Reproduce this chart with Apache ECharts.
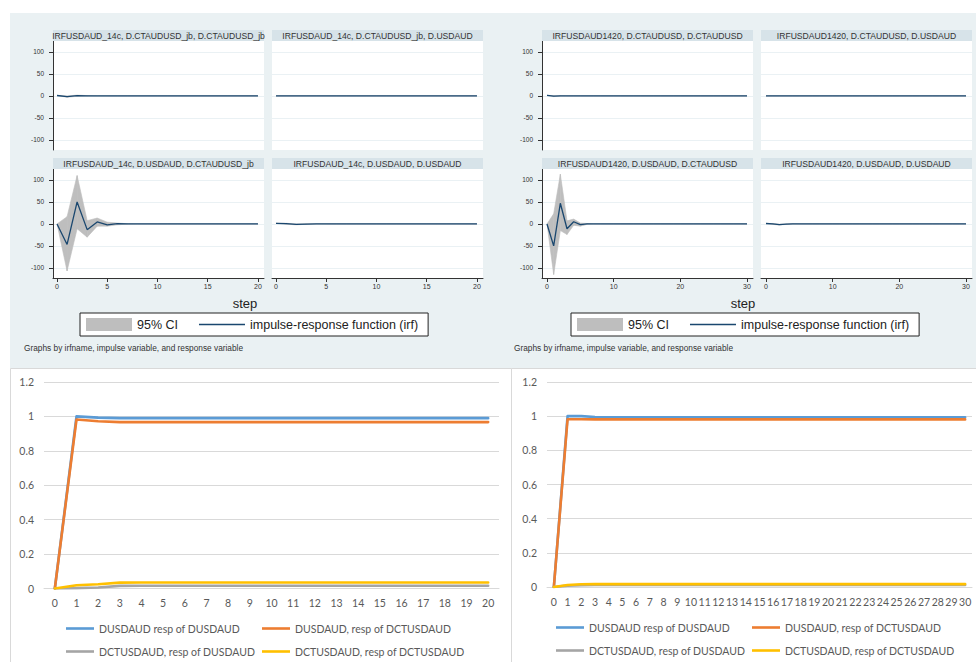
<!DOCTYPE html>
<html>
<head>
<meta charset="utf-8">
<title>IRF USDAUD</title>
<script src="https://cdn.jsdelivr.net/npm/echarts@6/dist/echarts.min.js"></script>
<style>
  html, body { margin: 0; padding: 0; background: #fff; }
  #chart { width: 976px; height: 662px; }
</style>
</head>
<body>
<div id="chart"></div>
<script>
// steps
const steps20 = [0, 1, 2, 3, 4, 5, 6, 7, 8, 9, 10, 11, 12, 13, 14, 15, 16, 17, 18, 19, 20];
const steps30 = [0, 1, 2, 3, 4, 5, 6, 7, 8, 9, 10, 11, 12, 13, 14, 15, 16, 17, 18, 19, 20,
  21, 22, 23, 24, 25, 26, 27, 28, 29, 30];

// stata block 1: IRFUSDAUD_14c (impulse, response)
const irfA_cc = [1, -1.5, 0.5, 0.2, 0, 0, 0, 0, 0, 0, 0, 0, 0, 0, 0, 0, 0, 0, 0, 0, 0];
const loA_cc = [1, -3, -0.8, -0.4, -0.1, 0, 0, 0, 0, 0, 0, 0, 0, 0, 0, 0, 0, 0, 0, 0, 0];
const hiA_cc = [1, 0, 1.8, 0.8, 0.1, 0, 0, 0, 0, 0, 0, 0, 0, 0, 0, 0, 0, 0, 0, 0, 0];
const irfA_cu = [0, 0, 0, 0, 0, 0, 0, 0, 0, 0, 0, 0, 0, 0, 0, 0, 0, 0, 0, 0, 0];
const loA_cu = [0, 0, 0, 0, 0, 0, 0, 0, 0, 0, 0, 0, 0, 0, 0, 0, 0, 0, 0, 0, 0];
const hiA_cu = [0, 0, 0, 0, 0, 0, 0, 0, 0, 0, 0, 0, 0, 0, 0, 0, 0, 0, 0, 0, 0];
const irfA_uc = [0, -46.6, 50, -13, 4.5, -2, 0.5, 0, 0, 0, 0, 0, 0, 0, 0, 0, 0, 0, 0, 0, 0];
const loA_uc = [0, -107, -11, -30, -5, -5, -2, -0.5, 0, 0, 0, 0, 0, 0, 0, 0, 0, 0, 0, 0, 0];
const hiA_uc = [0, 16.5, 110, 7.5, 13.5, 4, 2, 0.5, 0, 0, 0, 0, 0, 0, 0, 0, 0, 0, 0, 0, 0];
const irfA_uu = [1.5, 0.5, -1, -0.3, 0, 0, 0, 0, 0, 0, 0, 0, 0, 0, 0, 0, 0, 0, 0, 0, 0];
const loA_uu = [1.5, -0.5, -2, -0.8, -0.1, 0, 0, 0, 0, 0, 0, 0, 0, 0, 0, 0, 0, 0, 0, 0, 0];
const hiA_uu = [1.5, 1.5, 0, 0.2, 0.1, 0, 0, 0, 0, 0, 0, 0, 0, 0, 0, 0, 0, 0, 0, 0, 0];

// stata block 2: IRFUSDAUD1420
const irfB_cc = [1.5, -0.5, 0, 0, 0, 0, 0, 0, 0, 0, 0, 0, 0, 0, 0, 0, 0, 0, 0, 0, 0, 0, 0, 0, 0, 0, 0, 0, 0, 0, 0];
const loB_cc = [1.5, -1.5, -0.3, 0, 0, 0, 0, 0, 0, 0, 0, 0, 0, 0, 0, 0, 0, 0, 0, 0, 0, 0, 0, 0, 0, 0, 0, 0, 0, 0, 0];
const hiB_cc = [1.5, 0.5, 0.3, 0, 0, 0, 0, 0, 0, 0, 0, 0, 0, 0, 0, 0, 0, 0, 0, 0, 0, 0, 0, 0, 0, 0, 0, 0, 0, 0, 0];
const irfB_cu = [0, 0, 0, 0, 0, 0, 0, 0, 0, 0, 0, 0, 0, 0, 0, 0, 0, 0, 0, 0, 0, 0, 0, 0, 0, 0, 0, 0, 0, 0, 0];
const loB_cu = [0, 0, 0, 0, 0, 0, 0, 0, 0, 0, 0, 0, 0, 0, 0, 0, 0, 0, 0, 0, 0, 0, 0, 0, 0, 0, 0, 0, 0, 0, 0];
const hiB_cu = [0, 0, 0, 0, 0, 0, 0, 0, 0, 0, 0, 0, 0, 0, 0, 0, 0, 0, 0, 0, 0, 0, 0, 0, 0, 0, 0, 0, 0, 0, 0];
const irfB_uc = [0, -50, 47, -11, 5, -1.5, 0, 0, 0, 0, 0, 0, 0, 0, 0, 0, 0, 0, 0, 0, 0, 0, 0, 0, 0, 0, 0, 0, 0, 0, 0];
const loB_uc = [0, -115, -15, -24, -3, -5, -1, 0, 0, 0, 0, 0, 0, 0, 0, 0, 0, 0, 0, 0, 0, 0, 0, 0, 0, 0, 0, 0, 0, 0, 0];
const hiB_uc = [0, 23, 113, 7, 11, 2, 1, 0, 0, 0, 0, 0, 0, 0, 0, 0, 0, 0, 0, 0, 0, 0, 0, 0, 0, 0, 0, 0, 0, 0, 0];
const irfB_uu = [1, 0, -1.5, -0.5, 0, 0, 0, 0, 0, 0, 0, 0, 0, 0, 0, 0, 0, 0, 0, 0, 0, 0, 0, 0, 0, 0, 0, 0, 0, 0, 0];
const loB_uu = [1, -1, -2.5, -1, -0.2, 0, 0, 0, 0, 0, 0, 0, 0, 0, 0, 0, 0, 0, 0, 0, 0, 0, 0, 0, 0, 0, 0, 0, 0, 0, 0];
const hiB_uu = [1, 1, -0.5, 0, 0.2, 0, 0, 0, 0, 0, 0, 0, 0, 0, 0, 0, 0, 0, 0, 0, 0, 0, 0, 0, 0, 0, 0, 0, 0, 0, 0];

const stataYTicks = [-100, -50, 0, 50, 100];
const xTicks20 = [0, 5, 10, 15, 20];
const xTicks30 = [0, 10, 20, 30];

// excel charts
const catsA = ['0', '1', '2', '3', '4', '5', '6', '7', '8', '9', '10', '11', '12', '13', '14', '15', '16', '17', '18', '19', '20'];
const catsB = ['0', '1', '2', '3', '4', '5', '6', '7', '8', '9', '10', '11', '12', '13', '14', '15', '16', '17', '18', '19', '20',
  '21', '22', '23', '24', '25', '26', '27', '28', '29', '30'];
const blueA = [0, 1.0, 0.993, 0.99, 0.99, 0.99, 0.99, 0.99, 0.99, 0.99, 0.99, 0.99, 0.99, 0.99, 0.99, 0.99, 0.99, 0.99, 0.99, 0.99, 0.99];
const orangeA = [0, 0.982, 0.972, 0.967, 0.967, 0.967, 0.967, 0.967, 0.967, 0.967, 0.967, 0.967, 0.967, 0.967, 0.967, 0.967, 0.967, 0.967, 0.967, 0.967, 0.967];
const grayA = [0, 0.002, 0.006, 0.015, 0.016, 0.016, 0.016, 0.016, 0.016, 0.016, 0.016, 0.016, 0.016, 0.016, 0.016, 0.016, 0.016, 0.016, 0.016, 0.016, 0.016];
const yellowA = [0, 0.019, 0.025, 0.034, 0.035, 0.035, 0.035, 0.035, 0.035, 0.035, 0.035, 0.035, 0.035, 0.035, 0.035, 0.035, 0.035, 0.035, 0.035, 0.035, 0.035];
const blueB = [0, 1.0, 1.0, 0.995, 0.994, 0.994, 0.994, 0.994, 0.994, 0.994, 0.994, 0.994, 0.994, 0.994, 0.994, 0.994, 0.994, 0.994, 0.994, 0.994, 0.994,
  0.994, 0.994, 0.994, 0.994, 0.994, 0.994, 0.994, 0.994, 0.994, 0.994];
const orangeB = [0, 0.982, 0.982, 0.981, 0.981, 0.981, 0.981, 0.981, 0.981, 0.981, 0.981, 0.981, 0.981, 0.981, 0.981, 0.981, 0.981, 0.981, 0.981, 0.981, 0.981,
  0.981, 0.981, 0.981, 0.981, 0.981, 0.981, 0.981, 0.981, 0.981, 0.981];
const grayB = [0, 0.008, 0.011, 0.012, 0.012, 0.012, 0.012, 0.012, 0.012, 0.012, 0.012, 0.012, 0.012, 0.012, 0.012, 0.012, 0.012, 0.012, 0.012, 0.012, 0.012,
  0.012, 0.012, 0.012, 0.012, 0.012, 0.012, 0.012, 0.012, 0.012, 0.012];
const yellowB = [0, 0.012, 0.016, 0.017, 0.017, 0.017, 0.017, 0.017, 0.017, 0.017, 0.017, 0.017, 0.017, 0.017, 0.017, 0.017, 0.017, 0.017, 0.017, 0.017, 0.017,
  0.017, 0.017, 0.017, 0.017, 0.017, 0.017, 0.017, 0.017, 0.017, 0.017];
const excelNames = ['DUSDAUD resp of DUSDAUD', 'DUSDAUD, resp of DCTUSDAUD', 'DCTUSDAUD, resp of DUSDAUD', 'DCTUSDAUD, resp of DCTUSDAUD'];
const excelColors = ['#5b9bd5', '#ed7d31', '#a5a5a5', '#ffc000'];

const CI_NAME = '95% CI';
const IRF_NAME = 'impulse-response function (irf)';
const stataFont = 'Liberation Sans';
const excelFont = 'Lato';
const ciColor = '#bebebe';
const irfColor = '#1a476f';

const grids = [], xAxes = [], yAxes = [], series = [], legends = [], graphics = [];

function pairs(xs, ys) {
  return xs.map((x, i) => [x, ys[i]]);
}

function stataPanel(p) {
  const gi = grids.length;
  grids.push({ left: p.left, top: p.top, width: p.width, height: 109, show: true,
    backgroundColor: '#fff', borderWidth: 0 });
  xAxes.push({
    gridIndex: gi, type: 'value', min: p.xMin, max: p.xMax,
    axisLine: { show: p.bottom, onZero: false, lineStyle: { color: '#333', width: 1 } },
    axisTick: { show: p.bottom, length: 4, customValues: p.xTicks, lineStyle: { color: '#333' } },
    axisLabel: { show: p.bottom, customValues: p.xTicks, fontSize: 7, color: '#333', margin: 5, fontFamily: stataFont },
    splitLine: { show: false }
  });
  yAxes.push({
    gridIndex: gi, type: 'value', min: -123, max: 125,
    axisLine: { show: p.leftAxis, onZero: false, lineStyle: { color: '#333', width: 1 } },
    axisTick: { show: p.leftAxis, length: 4, customValues: stataYTicks, lineStyle: { color: '#333' } },
    axisLabel: { show: p.leftAxis, customValues: stataYTicks, fontSize: 6.5, color: '#333', margin: 9, fontFamily: stataFont },
    splitLine: { show: true, lineStyle: { color: '#eaf1f4', width: 1 } }
  });
  // confidence band: one quad between each pair of steps
  const steps = p.steps, lo = p.lo, hi = p.hi;
  series.push({
    name: CI_NAME, type: 'custom', xAxisIndex: gi, yAxisIndex: gi, silent: true,
    data: steps.map((s, i) => [s, lo[i], hi[i]]),
    encode: { x: 0, y: [1, 2] },
    itemStyle: { color: ciColor },
    renderItem: function (params, api) {
      const i = params.dataIndex;
      if (i >= steps.length - 1) return null;
      const pts = [
        api.coord([steps[i], lo[i]]), api.coord([steps[i + 1], lo[i + 1]]),
        api.coord([steps[i + 1], hi[i + 1]]), api.coord([steps[i], hi[i]])
      ];
      return { type: 'polygon', shape: { points: pts },
        style: { fill: ciColor, stroke: ciColor, lineWidth: 0.6 } };
    }
  });
  series.push({
    name: IRF_NAME, type: 'line', xAxisIndex: gi, yAxisIndex: gi,
    data: pairs(steps, p.irf), symbol: 'none', itemStyle: { color: irfColor },
    lineStyle: { color: irfColor, width: 1.3 }, silent: true
  });
  // by-title bar
  graphics.push({ type: 'rect', shape: { x: p.left, y: p.top - 11, width: p.width, height: 11 },
    style: { fill: '#d7e3e9' }, z: 1 });
  graphics.push({ type: 'text', x: p.left + p.width / 2, y: p.top - 5, z: 2,
    style: { text: p.title, fill: '#333', font: '8.6px "Liberation Sans"', align: 'center', verticalAlign: 'middle' } });
}

function stataBlock(b) {
  const colL = b.x0, colR = b.x1;
  const rows = [41, 169];
  const cfgs = [
    { title: b.titles[0], irf: b.irf[0], lo: b.lo[0], hi: b.hi[0], left: colL, top: rows[0], bottom: false, leftAxis: true },
    { title: b.titles[1], irf: b.irf[1], lo: b.lo[1], hi: b.hi[1], left: colR, top: rows[0], bottom: false, leftAxis: false },
    { title: b.titles[2], irf: b.irf[2], lo: b.lo[2], hi: b.hi[2], left: colL, top: rows[1], bottom: true, leftAxis: true },
    { title: b.titles[3], irf: b.irf[3], lo: b.lo[3], hi: b.hi[3], left: colR, top: rows[1], bottom: true, leftAxis: false }
  ];
  cfgs.forEach(c => {
    stataPanel(Object.assign(c, { width: 211, steps: b.steps, xMin: b.xMin, xMax: b.xMax, xTicks: b.xTicks }));
  });
  graphics.push({ type: 'text', x: b.stepX, y: 303, z: 2,
    style: { text: 'step', fill: '#222', font: '13px "Liberation Sans"', align: 'center', verticalAlign: 'middle' } });
  graphics.push({ type: 'text', x: b.noteX, y: 348, z: 2,
    style: { text: 'Graphs by irfname, impulse variable, and response variable', fill: '#333',
      font: '8.3px "Liberation Sans"', align: 'left', verticalAlign: 'middle' } });
  legends.push({
    left: b.legendX, top: 313, orient: 'horizontal', selectedMode: false,
    padding: [5, 10, 5, 6], itemGap: 21, itemWidth: 46, itemHeight: 13,
    backgroundColor: '#fff', borderColor: '#222', borderWidth: 1, borderRadius: 0,
    textStyle: { fontSize: 12.5, color: '#222', fontFamily: stataFont },
    data: [
      { name: CI_NAME, icon: 'rect', itemStyle: { color: ciColor, borderWidth: 0 } },
      { name: IRF_NAME, icon: 'path://M0,0h46v1.3h-46z', itemStyle: { color: irfColor, borderWidth: 0 } }
    ]
  });
}

function excelChart(e) {
  const gi = grids.length;
  grids.push({ left: e.left, top: 382, width: e.width, height: e.height, show: false });
  xAxes.push({
    gridIndex: gi, type: 'category', data: e.cats, boundaryGap: true,
    axisLine: { lineStyle: { color: '#d9d9d9', width: 1 } },
    axisTick: { show: false },
    axisLabel: { interval: 0, color: '#595959', fontSize: 10.5, margin: 9, fontFamily: excelFont },
    splitLine: { show: false }
  });
  yAxes.push({
    gridIndex: gi, type: 'value', min: 0, max: 1.2, interval: 0.2,
    axisLine: { show: false }, axisTick: { show: false },
    axisLabel: { color: '#595959', fontSize: 10.5, margin: 10, fontFamily: excelFont },
    splitLine: { lineStyle: { color: '#d9d9d9', width: 1 } }
  });
  e.values.forEach((vals, k) => {
    series.push({
      name: excelNames[k], type: 'line', xAxisIndex: gi, yAxisIndex: gi, data: vals,
      symbol: 'none', itemStyle: { color: excelColors[k] }, silent: true,
      lineStyle: { color: excelColors[k], width: 2.6, cap: 'round', join: 'round' }
    });
    legends.push({
      left: e.legendX[k % 2], top: e.legendY[Math.floor(k / 2)], selectedMode: false,
      padding: 0, itemWidth: 28, itemHeight: 12,
      textStyle: { fontSize: 10.5, color: '#595959', fontFamily: excelFont },
      data: [{ name: excelNames[k], icon: 'path://M0,0h28v2.6h-28z',
        itemStyle: { color: excelColors[k], borderWidth: 0 } }]
    });
  });
  graphics.push({ type: 'rect', shape: { x: e.boxX + 0.5, y: 368.5, width: e.boxW, height: 320 },
    style: { fill: '#fff', stroke: '#d9d9d9', lineWidth: 1 }, z: -1 });
}

// backgrounds
graphics.push({ type: 'rect', shape: { x: 10, y: 13, width: 966, height: 355 },
  style: { fill: '#eaf1f3' }, z: -2 });

stataBlock({
  x0: 53, x1: 272, steps: steps20, xMin: -0.4, xMax: 20.6, xTicks: xTicks20,
  stepX: 245, noteX: 24, legendX: 80,
  titles: ['IRFUSDAUD_14c, D.CTAUDUSD_jb, D.CTAUDUSD_jb', 'IRFUSDAUD_14c, D.CTAUDUSD_jb, D.USDAUD',
    'IRFUSDAUD_14c, D.USDAUD, D.CTAUDUSD_jb', 'IRFUSDAUD_14c, D.USDAUD, D.USDAUD'],
  irf: [irfA_cc, irfA_cu, irfA_uc, irfA_uu],
  lo: [loA_cc, loA_cu, loA_uc, loA_uu],
  hi: [hiA_cc, hiA_cu, hiA_uc, hiA_uu]
});
stataBlock({
  x0: 542, x1: 761, steps: steps30, xMin: -0.75, xMax: 30.9, xTicks: xTicks30,
  stepX: 743, noteX: 514, legendX: 571,
  titles: ['IRFUSDAUD1420, D.CTAUDUSD, D.CTAUDUSD', 'IRFUSDAUD1420, D.CTAUDUSD, D.USDAUD',
    'IRFUSDAUD1420, D.USDAUD, D.CTAUDUSD', 'IRFUSDAUD1420, D.USDAUD, D.USDAUD'],
  irf: [irfB_cc, irfB_cu, irfB_uc, irfB_uu],
  lo: [loB_cc, loB_cu, loB_uc, loB_uu],
  hi: [hiB_cc, hiB_cu, hiB_uc, hiB_uu]
});

excelChart({ left: 44, width: 455, height: 206.5, cats: catsA, boxX: 10, boxW: 501,
  values: [blueA, orangeA, grayA, yellowA], legendX: [66, 262], legendY: [623, 646] });
excelChart({ left: 547, width: 425, height: 205, cats: catsB, boxX: 511, boxW: 470,
  values: [blueB, orangeB, grayB, yellowB], legendX: [556, 752], legendY: [622, 645] });

const chart = echarts.init(document.getElementById('chart'), null, { renderer: 'svg' });
chart.setOption({
  animation: false,
  backgroundColor: '#fff',
  textStyle: { fontFamily: stataFont },
  grid: grids,
  xAxis: xAxes,
  yAxis: yAxes,
  legend: legends,
  graphic: { elements: graphics },
  series: series
});
</script>
</body>
</html>
